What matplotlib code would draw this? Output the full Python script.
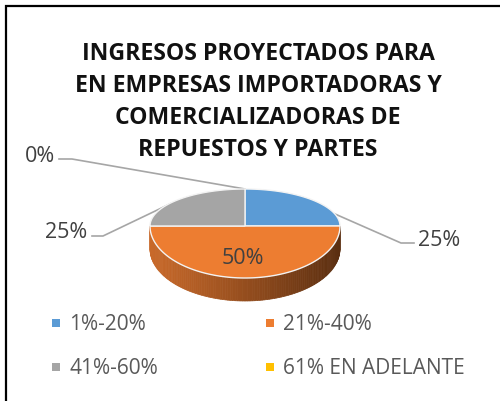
import matplotlib
matplotlib.use('Agg')
import matplotlib.pyplot as plt
import matplotlib.colors as mcolors
import numpy as np

titulo = "INGRESOS PROYECTADOS PARA\nEN EMPRESAS IMPORTADORAS Y\nCOMERCIALIZADORAS DE\nREPUESTOS Y PARTES"
categorias = ['1%-20%', '21%-40%', '41%-60%', '61% EN ADELANTE']
valores = [25, 50, 25, 0]
colores = ['#5B9BD5', '#ED7D31', '#A5A5A5', '#FFC000']

plt.rcParams['font.family'] = ['Open Sans', 'DejaVu Sans']

# pie geometry in pixels (perspective: front half is taller than back half)
cx, cy = 245, 226
rx, ry_top, ry_bot = 95, 37, 52
prof = 23


def punto(ang):
    x = cx + rx * np.sin(ang)
    c = np.cos(ang)
    y = cy - np.where(c > 0, ry_top, ry_bot) * c
    return x, y


fig = plt.figure(figsize=(5, 4.01), dpi=100)
ax = fig.add_axes([0, 0, 1, 1])
ax.set_xlim(0, 500)
ax.set_ylim(401, 0)
ax.axis('off')

# border
ax.plot([6, 6, 500], [401, 5.5, 5.5], color='black', lw=1.6, solid_joinstyle='miter')

# leader lines
gris = '#A6A6A6'
ax.plot([59, 72, 245], [159, 159, 189], color=gris, lw=1.2)
ax.plot([92, 103, 172], [236, 236, 203], color=gris, lw=1.2)
ax.plot([310, 401, 414], [203, 243, 243], color=gris, lw=1.2)

# side wall of the orange slice
oscuro = mcolors.to_rgb('#5A2E10')
claro = mcolors.to_rgb('#C8692A')
angs = np.linspace(np.pi / 2, 3 * np.pi / 2, 121)
for a0, a1 in zip(angs[:-1], angs[1:]):
    x0, y0 = punto(np.array(a0))
    x1, y1 = punto(np.array(a1))
    t = np.clip(((x0 + x1) / 2 - cx + rx) / (2 * rx), 0, 1)  # 0 left, 1 right
    col = [claro[i] + (oscuro[i] - claro[i]) * t ** 1.1 for i in range(3)]
    ax.fill([x0, x1, x1, x0], [y0, y1, y1 + prof, y0 + prof], facecolor=col, edgecolor=col, lw=0.5)

# top faces
inicio = np.cumsum([0] + valores[:-1]) / sum(valores) * 2 * np.pi
fin = np.cumsum(valores) / sum(valores) * 2 * np.pi
for a0, a1, col, val in zip(inicio, fin, colores, valores):
    if val == 0:
        continue
    t = np.linspace(a0, a1, 100)
    xs, ys = punto(t)
    ax.fill(np.r_[cx, xs], np.r_[cy, ys], facecolor=col, edgecolor='#F3F3F3', lw=1.0, zorder=3)

# title
ax.text(258, 102, titulo, ha='center', va='center', fontsize=16.6, fontweight='bold',
        color='#111111', linespacing=1.445)

# data labels
txt = '#404040'
ax.text(40, 157, f'{valores[3]}%', ha='center', va='center', fontsize=15.5, color=txt)
ax.text(66, 232, f'{valores[2]}%', ha='center', va='center', fontsize=15.5, color=txt)
ax.text(439, 240, f'{valores[0]}%', ha='center', va='center', fontsize=15.5, color=txt)
ax.text(243, 258, f'{valores[1]}%', ha='center', va='center', fontsize=15.5, color=txt, zorder=5)

# legend
leg_x = [56, 270]
leg_y = [322, 366]
for i, (cat, col) in enumerate(zip(categorias, colores)):
    x = leg_x[i % 2]
    y = leg_y[i // 2]
    ax.scatter([x], [y + 1], marker='s', s=40, color=col, linewidths=0)
    ax.text(x + 13, y + 2, cat, ha='left', va='center', fontsize=15, color='#595959')

fig.savefig('out.png', dpi=100)
